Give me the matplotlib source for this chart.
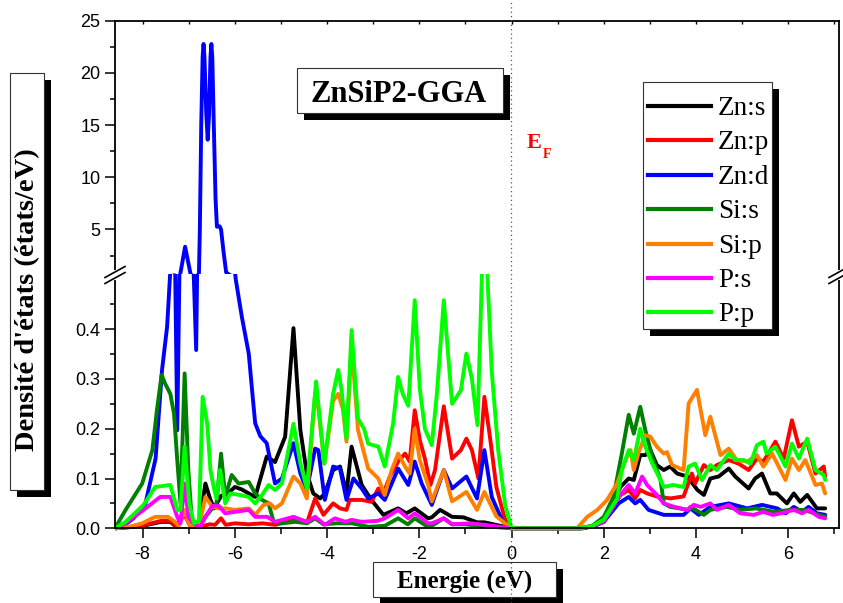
import matplotlib
matplotlib.use("Agg")
import matplotlib.pyplot as plt
from matplotlib.patches import Rectangle
from matplotlib.lines import Line2D
from matplotlib.ticker import FixedLocator, MultipleLocator, FormatStrFormatter

plt.rcParams["axes.unicode_minus"] = False

# ---------------------------------------------------------------- data
labels = ["Zn:s", "Zn:p", "Zn:d", "Si:s", "Si:p", "P:s", "P:p"]
colors = ["#000000", "#FF0000", "#0000FF", "#008000", "#FF8000", "#FF00FF", "#00FF00"]

zn_s_e = [-8.6, -8.2, -7.9, -7.6, -7.4, -7.27, -7.1, -6.95, -6.78, -6.64, -6.53, -6.45, -6.3, -6.15,
          -6.0, -5.85, -5.7, -5.56, -5.31, -5.13, -4.91, -4.73, -4.58, -4.44, -4.3, -4.15, -4.05,
          -3.87, -3.72, -3.58, -3.47, -3.25, -3.04, -2.78, -2.46, -2.28, -2.1, -1.81, -1.73, -1.55,
          -1.29, -1.04, -0.75, -0.59, 0.0, 1.4, 1.55, 1.8, 2.0, 2.36, 2.54, 2.65, 2.79, 2.9, 3.01,
          3.15, 3.3, 3.44, 3.59, 3.81, 4.03, 4.17, 4.31, 4.49, 4.71, 4.85, 5.14, 5.28, 5.43, 5.61,
          5.75, 5.97, 6.12, 6.26, 6.41, 6.62, 6.8]
zn_s_dos = [0, 0.003, 0.007, 0.013, 0.013, 0.003, 0.035, 0.003, 0.003, 0.09, 0.057, 0.04, 0.065, 0.07,
            0.083, 0.078, 0.07, 0.063, 0.144, 0.133, 0.184, 0.402, 0.197, 0.11, 0.07, 0.06, 0.07,
            0.117, 0.124, 0.07, 0.164, 0.087, 0.057, 0.027, 0.04, 0.03, 0.04, 0.02, 0.022, 0.037,
            0.023, 0.022, 0.012, 0.012, 0, 0, 0, 0.005, 0.013, 0.083, 0.1, 0.097, 0.147, 0.147, 0.157,
            0.127, 0.117, 0.124, 0.11, 0.104, 0.077, 0.067, 0.1, 0.104, 0.12, 0.104, 0.08, 0.1, 0.11, 0.07,
            0.07, 0.05, 0.07, 0.053, 0.067, 0.04, 0.04]

zn_p_e = [-8.6, -8.2, -7.9, -7.6, -7.4, -7.27, -7.1, -6.95, -6.75, -6.55, -6.43, -6.3, -6.2, -6.0,
          -5.7, -5.4, -5.13, -4.9, -4.73, -4.44, -4.26, -4.08, -3.87, -3.72, -3.58, -3.51, -3.25,
          -3.04, -2.89, -2.78, -2.64, -2.46, -2.31, -2.21, -2.1, -1.99, -1.88, -1.76, -1.66, -1.47,
          -1.29, -1.1, -0.98, -0.86, -0.72, -0.59, -0.47, -0.33, -0.15, 0.0, 1.45, 1.7, 2.0, 2.36,
          2.54, 2.68, 2.79, 2.94, 3.15, 3.44, 3.73, 3.91, 3.98, 4.17, 4.31, 4.45, 4.71, 4.92, 5.14,
          5.32, 5.46, 5.72, 5.9, 6.08, 6.23, 6.41, 6.59, 6.77, 6.8]
zn_p_dos = [0, 0.003, 0.008, 0.015, 0.015, 0.003, 0.027, 0.003, 0.003, 0.008, 0.007, 0.02, 0.007, 0.01,
            0.008, 0.01, 0.007, 0.012, 0.02, 0.01, 0.06, 0.027, 0.05, 0.04, 0.037, 0.057, 0.057,
            0.053, 0.08, 0.07, 0.104, 0.134, 0.15, 0.134, 0.237, 0.177, 0.14, 0.087, 0.117, 0.245,
            0.14, 0.157, 0.18, 0.157, 0.1, 0.264, 0.184, 0.083, 0.02, 0, 0, 0.004, 0.013, 0.067,
            0.077, 0.06, 0.077, 0.07, 0.064, 0.06, 0.064, 0.11, 0.09, 0.127, 0.117, 0.127, 0.137, 0.13, 0.117,
            0.14, 0.134, 0.174, 0.14, 0.217, 0.164, 0.174, 0.11, 0.124, 0.104]

zn_d_e = [-8.6, -8.37, -8.2, -7.94, -7.72, -7.58, -7.47, -7.38, -7.31, -7.25, -7.19, -7.08, -6.96,
          -6.84, -6.78, -6.76, -6.73, -6.7, -6.68, -6.66, -6.62, -6.59, -6.56, -6.53, -6.51, -6.49,
          -6.46, -6.42, -6.39, -6.33, -6.3, -6.25, -6.19, -6.1, -5.98, -5.85, -5.7, -5.62, -5.56,
          -5.45, -5.31, -5.13, -4.98, -4.73, -4.58, -4.44, -4.26, -4.19, -4.05, -3.87, -3.72, -3.58,
          -3.43, -3.25, -3.11, -2.89, -2.75, -2.46, -2.24, -2.1, -1.95, -1.73, -1.47, -1.29, -0.98,
          -0.75, -0.59, -0.43, -0.2, 0.0, 1.49, 1.7, 2.0, 2.32, 2.54, 2.68, 2.79, 2.97, 3.3, 3.73,
          3.88, 4.06, 4.31, 4.71, 5.11, 5.43, 5.76, 5.94, 6.12, 6.3, 6.44, 6.62, 6.8]
zn_d_dos = [0, 0.008, 0.02, 0.05, 0.14, 0.318, 0.405, 0.55, 0.62, 0.197, 0.6, 3.35, 0.7,
            0.358, 0.8, 5.0, 15.0, 21.5, 22.77, 21.5, 16.0, 13.6, 16.0, 21.5, 22.77, 21.5,
            15.5, 8.0, 5.27, 5.3, 5.0, 3.0, 0.9, 0.6, 0.499, 0.425, 0.351, 0.27, 0.211,
            0.185, 0.171, 0.09, 0.1, 0.171, 0.11, 0.077, 0.16, 0.157, 0.057, 0.124, 0.12, 0.057,
            0.1, 0.08, 0.06, 0.07, 0.057, 0.12, 0.087, 0.134, 0.09, 0.047, 0.117, 0.08, 0.104,
            0.06, 0.157, 0.063, 0.015, 0, 0, 0.003, 0.013, 0.05, 0.063, 0.05, 0.057, 0.037, 0.027, 0.027,
            0.04, 0.027, 0.043, 0.05, 0.04, 0.047, 0.04, 0.03, 0.043, 0.033, 0.043, 0.03, 0.027]

si_s_e = [-8.6, -8.37, -8.01, -7.79, -7.69, -7.59, -7.51, -7.4, -7.32, -7.25, -7.18, -7.09, -7.01,
          -6.93, -6.78, -6.64, -6.49, -6.4, -6.3, -6.21, -6.07, -5.92, -5.7, -5.56, -5.41, -5.27,
          -5.16, -4.98, -4.69, -4.44, -4.26, -4.08, -3.8, -3.46, -3.1, -2.75, -2.46, -2.25, -2.1,
          -1.85, -1.73, -1.47, -1.29, -1.0, -0.7, 0.0, 1.5, 1.75, 2.0, 2.21, 2.39, 2.54, 2.65, 2.79,
          2.9, 3.05, 3.23, 3.3, 3.44, 3.84, 3.88, 4.17, 4.31, 4.67, 4.96, 5.3, 5.69, 6.05, 6.34, 6.8]
si_s_dos = [0, 0.037, 0.09, 0.157, 0.238, 0.308, 0.29, 0.27, 0.23, 0.137, 0.05, 0.311, 0.117,
            0.01, 0.003, 0.023, 0.04, 0.05, 0.15, 0.063, 0.107, 0.09, 0.093, 0.07, 0.057, 0.05,
            0.013, 0.01, 0.013, 0.01, 0.02, 0.008, 0.01, 0.01, 0.003, 0.005, 0.02, 0.008, 0.02,
            0.005, 0.005, 0.02, 0.008, 0.008, 0.005, 0, 0, 0.005, 0.023, 0.063, 0.15, 0.228, 0.19, 0.244,
            0.197, 0.144, 0.097, 0.05, 0.043, 0.037, 0.043, 0.027, 0.037, 0.043, 0.037, 0.04, 0.033, 0.037, 0.037, 0.023]

si_p_e = [-8.6, -8.3, -8.01, -7.73, -7.45, -7.3, -7.22, -7.1, -7.0, -6.78, -6.64, -6.49, -6.35, -6.2,
          -6.0, -5.7, -5.56, -5.38, -5.24, -5.13, -4.98, -4.73, -4.58, -4.44, -4.26, -4.19, -4.06,
          -3.87, -3.76, -3.66, -3.58, -3.47, -3.33, -3.11, -2.89, -2.75, -2.6, -2.46, -2.31, -2.21,
          -2.1, -1.99, -1.81, -1.73, -1.47, -1.29, -0.98, -0.75, -0.59, -0.33, 0.0, 1.42, 1.64, 1.86,
          2.07, 2.29, 2.47, 2.58, 2.65, 2.76, 2.9, 3.01, 3.15, 3.3, 3.37, 3.48, 3.73, 3.84, 4.02, 4.2,
          4.31, 4.53, 4.71, 4.88, 5.11, 5.32, 5.46, 5.65, 5.94, 6.08, 6.23, 6.37, 6.59, 6.73, 6.8]
si_p_dos = [0, 0.003, 0.01, 0.023, 0.023, 0.013, 0.005, 0.037, 0.008, 0.002, 0.063, 0.043, 0.04, 0.04,
            0.037, 0.04, 0.027, 0.047, 0.05, 0.04, 0.05, 0.104, 0.09, 0.06, 0.27, 0.24, 0.13,
            0.256, 0.27, 0.24, 0.174, 0.37, 0.197, 0.12, 0.1, 0.067, 0.117, 0.15, 0.124, 0.11,
            0.2, 0.137, 0.087, 0.054, 0.117, 0.054, 0.073, 0.037, 0.073, 0.024, 0, 0, 0.023, 0.037,
            0.057, 0.09, 0.137, 0.157, 0.117, 0.154, 0.187, 0.184, 0.164, 0.15, 0.153, 0.127, 0.117, 0.251, 0.278, 0.187,
            0.224, 0.147, 0.16, 0.137, 0.134, 0.147, 0.124, 0.15, 0.097, 0.14, 0.117, 0.137, 0.087, 0.09, 0.07]

p_s_e = [-8.6, -8.37, -7.98, -7.62, -7.4, -7.25, -7.18, -7.09, -7.01, -6.88, -6.75, -6.64, -6.49,
         -6.35, -6.21, -6.0, -5.7, -5.56, -5.3, -5.13, -4.73, -4.44, -4.26, -4.05, -3.83, -3.6,
         -3.47, -3.25, -2.9, -2.75, -2.46, -2.24, -2.1, -1.81, -1.73, -1.47, -1.29, -0.9, -0.59, 0.0,
         1.5, 1.75, 2.0, 2.36, 2.54, 2.68, 2.83, 2.94, 3.15, 3.3, 3.53, 3.81, 3.95, 4.1, 4.31, 4.45,
         4.71, 4.96, 5.25, 5.46, 5.66, 5.84, 6.12, 6.3, 6.44, 6.66, 6.8]
p_s_dos = [0, 0.01, 0.037, 0.063, 0.063, 0.023, 0.01, 0.09, 0.023, 0.008, 0.003, 0.023, 0.045,
           0.045, 0.03, 0.033, 0.037, 0.023, 0.023, 0.013, 0.023, 0.013, 0.023, 0.007, 0.02, 0.013,
           0.017, 0.013, 0.015, 0.02, 0.037, 0.02, 0.03, 0.01, 0.01, 0.02, 0.008, 0.01, 0.007, 0,
           0, 0.004, 0.013, 0.067, 0.087, 0.07, 0.104, 0.087, 0.067, 0.05, 0.043, 0.037, 0.047, 0.043, 0.05, 0.037,
           0.047, 0.03, 0.027, 0.033, 0.027, 0.03, 0.037, 0.03, 0.037, 0.023, 0.02]

p_p_e = [-8.6, -8.37, -7.98, -7.73, -7.4, -7.25, -7.18, -7.09, -6.99, -6.89, -6.78, -6.7, -6.6,
         -6.53, -6.46, -6.4, -6.32, -6.21, -6.1, -5.9, -5.7, -5.56, -5.41, -5.27, -5.13, -4.98,
         -4.73, -4.58, -4.44, -4.24, -4.06, -3.87, -3.76, -3.69, -3.58, -3.47, -3.33, -3.2, -3.11,
         -2.89, -2.75, -2.57, -2.46, -2.36, -2.24, -2.1, -1.99, -1.88, -1.73, -1.62, -1.47, -1.29,
         -1.1, -0.98, -0.86, -0.74, -0.64, -0.53, -0.43, -0.29, -0.14, 0.0, 1.49, 1.75, 2.0, 2.29,
         2.39, 2.54, 2.65, 2.79, 2.9, 3.05, 3.23, 3.3, 3.5, 3.73, 3.84, 3.98, 4.13, 4.31, 4.45, 4.71,
         4.85, 5.04, 5.18, 5.32, 5.46, 5.53, 5.72, 5.94, 6.08, 6.23, 6.41, 6.59, 6.77, 6.8]
p_p_dos = [0, 0.013, 0.047, 0.083, 0.087, 0.037, 0.037, 0.164, 0.05, 0.01, 0.015, 0.264, 0.21,
           0.117, 0.083, 0.06, 0.117, 0.05, 0.07, 0.067, 0.063, 0.05, 0.067, 0.087, 0.077, 0.09,
           0.21, 0.13, 0.08, 0.295, 0.13, 0.27, 0.318, 0.28, 0.18, 0.398, 0.22, 0.2, 0.17,
           0.164, 0.124, 0.21, 0.304, 0.27, 0.246, 0.458, 0.28, 0.2, 0.167, 0.27, 0.458, 0.25,
           0.277, 0.351, 0.3, 0.207, 0.52, 0.52, 0.315, 0.157, 0.047, 0, 0, 0.005, 0.017, 0.06,
           0.117, 0.157, 0.137, 0.2, 0.164, 0.13, 0.097, 0.083, 0.087, 0.083, 0.124, 0.13, 0.097, 0.127, 0.117, 0.15,
           0.137, 0.137, 0.13, 0.167, 0.174, 0.15, 0.164, 0.124, 0.17, 0.14, 0.18, 0.117, 0.107, 0.097]

series = [(zn_s_e, zn_s_dos), (zn_p_e, zn_p_dos), (zn_d_e, zn_d_dos), (si_s_e, si_s_dos),
          (si_p_e, si_p_dos), (p_s_e, p_s_dos), (p_p_e, p_p_dos)]

top_yticks = [5, 10, 15, 20, 25]
bot_yticks = [0.0, 0.1, 0.2, 0.3, 0.4]

# ---------------------------------------------------------------- layout helpers (pixels)
W, H = 843, 603
def fx(px):
    return px / W
def fy(py):
    return 1 - py / H

SERIF = "Liberation Serif"
SANS = "Liberation Sans"

fig = plt.figure(figsize=(W / 100, H / 100), dpi=100)
fig.patch.set_facecolor("white")

L, R, T, MID, B = 115, 839, 20.7, 274, 528.3
ax_top = fig.add_axes([fx(L), fy(MID), (R - L) / W, (MID - T) / H])
ax_bot = fig.add_axes([fx(L), fy(B), (R - L) / W, (B - MID) / H])

LW = 2.8
for ax in (ax_top, ax_bot):
    for (e, d), c in zip(series, colors):
        ln, = ax.plot(e, d, color=c, lw=LW, solid_joinstyle="round", solid_capstyle="round")
        if ax is ax_bot:
            clip = Rectangle((0, -0.03), 1, 1.03, transform=ax.transAxes)
            ln.set_clip_path(clip)
    ax.set_xlim(-8.6, 7.1)
    ax.xaxis.set_major_locator(MultipleLocator(2))
    ax.xaxis.set_minor_locator(MultipleLocator(1))
    for s in ax.spines.values():
        s.set_linewidth(1.3)
    ax.set_facecolor("none")

ax_top.set_ylim(0.737, 25)
ax_bot.set_ylim(0, 0.5107)
ax_top.spines["bottom"].set_visible(False)
ax_bot.spines["top"].set_visible(False)

ax_top.yaxis.set_major_locator(FixedLocator(top_yticks))
ax_top.yaxis.set_minor_locator(FixedLocator([2.5, 7.5, 12.5, 17.5, 22.5]))
ax_top.yaxis.set_major_formatter(FormatStrFormatter("%d"))
ax_bot.yaxis.set_major_locator(FixedLocator(bot_yticks))
ax_bot.yaxis.set_minor_locator(FixedLocator([0.05, 0.15, 0.25, 0.35, 0.45]))
ax_bot.yaxis.set_major_formatter(FormatStrFormatter("%.1f"))

for ax in (ax_top, ax_bot):
    ax.tick_params(axis="y", which="major", direction="out", length=7, width=1.1,
                   labelsize=13, pad=3.5, right=False)
    ax.tick_params(axis="y", which="minor", direction="out", length=3.8, width=1.1, right=False)

ax_top.tick_params(axis="x", which="both", bottom=False, top=True, direction="in",
                   length=2.5, width=1.0, labelbottom=False, labeltop=False)
ax_bot.tick_params(axis="x", which="major", direction="out", length=7, width=1.1,
                   labelsize=13, pad=6, top=False)
ax_bot.tick_params(axis="x", which="minor", direction="out", length=4, width=1.1, top=False)

for ax in (ax_top, ax_bot):
    for lab in ax.get_xticklabels() + ax.get_yticklabels():
        lab.set_fontfamily(SANS)

# ---------------------------------------------------------------- axis break marks
def break_marks(xc):
    fig.add_artist(Rectangle((fx(xc - 4), fy(280)), 8 / W, 10 / H, transform=fig.transFigure,
                             facecolor="white", edgecolor="none", zorder=8))
    for y0 in (277.5, 283.5):
        fig.add_artist(Line2D([fx(xc - 10), fx(xc + 10)], [fy(y0), fy(y0 - 11)],
                              transform=fig.transFigure, color="black", lw=1.2, zorder=9))
break_marks(L)
break_marks(R)

# ---------------------------------------------------------------- Fermi level
fig.add_artist(Line2D([fx(511.3), fx(511.3)], [0, 1], transform=fig.transFigure,
                      color="#555555", lw=0.9, ls=(0, (1, 2.5)), zorder=20))
fig.text(fx(527), fy(148), "E", color="red", fontsize=16, fontweight="bold",
         family=SERIF, va="baseline", ha="left")
fig.text(fx(542.5), fy(157.5), "F", color="red", fontsize=10, fontweight="bold",
         family=SERIF, va="baseline", ha="left")

# ---------------------------------------------------------------- shadowed boxes
def shadow_box(x0, y0, x1, y1, off=7):
    fig.add_artist(Rectangle((fx(x0 + off), fy(y1 + off)), (x1 - x0) / W, (y1 - y0) / H,
                             transform=fig.transFigure, facecolor="black", edgecolor="none",
                             zorder=10))
    fig.add_artist(Rectangle((fx(x0), fy(y1)), (x1 - x0) / W, (y1 - y0) / H,
                             transform=fig.transFigure, facecolor="white", edgecolor="#333333",
                             lw=0.8, zorder=11))

# title
shadow_box(297, 68, 503, 113)
fig.text(fx(399), fy(101.5), "ZnSiP2-GGA", fontsize=22, fontweight="bold", family=SERIF,
         ha="center", va="baseline", zorder=12)

# y label
shadow_box(10, 73, 44, 490)
fig.text(fx(28), fy(300), "Densité d'états (états/eV)", fontsize=20.5, fontweight="bold",
         family=SERIF, rotation=90, ha="center", va="center", zorder=12)

# x label
shadow_box(373, 562, 556, 597)
fig.text(fx(465), fy(588), "Energie (eV)", fontsize=18, fontweight="bold", family=SERIF,
         ha="center", va="baseline", zorder=12)

# legend
shadow_box(643, 82, 772, 329)
for i, (lab, c) in enumerate(zip(labels, colors)):
    y = 106 + i * 34.4
    fig.add_artist(Line2D([fx(648), fx(711)], [fy(y), fy(y)], transform=fig.transFigure,
                          color=c, lw=3, zorder=12))
    fig.text(fx(718), fy(y + 9), lab, fontsize=19.5, family=SERIF, ha="left",
             va="baseline", zorder=12)

fig.savefig("out.png", dpi=100)
